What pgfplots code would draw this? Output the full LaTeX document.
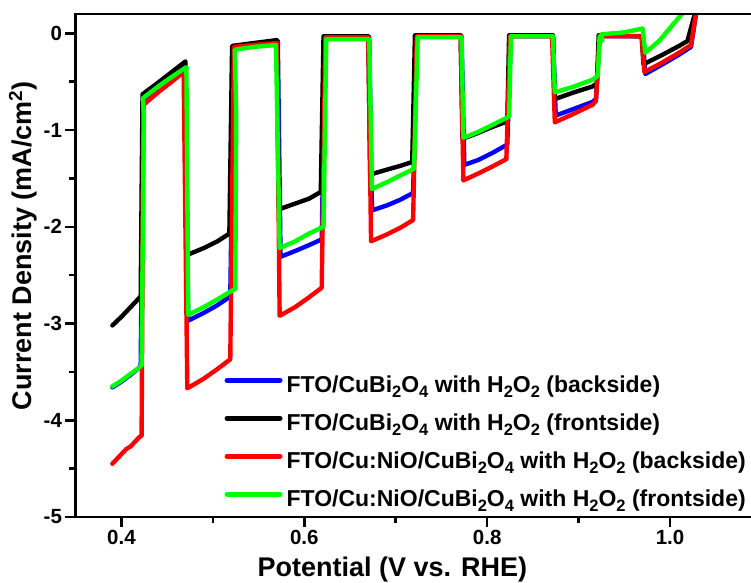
\documentclass[border=0pt]{standalone}
\usepackage{fontspec}
\setmainfont{Liberation Sans}
\usepackage{pgfplots}
\pgfplotsset{compat=1.18}

\definecolor{cblue}{RGB}{0,0,255}
\definecolor{cred}{RGB}{255,0,0}
\definecolor{cgreen}{RGB}{0,255,0}
\newcommand{\sub}[1]{\raisebox{-4.6pt}{\fontsize{16.5}{16.5}\selectfont #1}}

\pgfplotstableread{
x y
0.390 -3.66
0.400 -3.60
0.410 -3.53
0.419 -3.46
0.421 -3.43
0.424 -0.68
0.440 -0.55
0.455 -0.44
0.470 -0.34
0.473 -2.97
0.490 -2.89
0.505 -2.81
0.519 -2.72
0.523 -0.15
0.545 -0.11
0.571 -0.08
0.574 -2.31
0.590 -2.25
0.605 -2.19
0.619 -2.13
0.623 -0.04
0.671 -0.04
0.674 -1.83
0.690 -1.78
0.705 -1.72
0.719 -1.65
0.723 -0.03
0.772 -0.03
0.775 -1.36
0.790 -1.31
0.805 -1.24
0.822 -1.15
0.826 -0.03
0.872 -0.03
0.875 -0.85
0.895 -0.78
0.915 -0.71
0.919 -0.68
0.923 -0.03
0.970 -0.03
0.973 -0.42
0.990 -0.33
1.010 -0.22
1.023 -0.14
1.030 0.30
}\blueback

\pgfplotstableread{
x y
0.390 -3.02
0.400 -2.93
0.410 -2.83
0.418 -2.75
0.421 -2.72
0.423 -0.63
0.440 -0.51
0.455 -0.40
0.470 -0.29
0.472 -2.29
0.490 -2.22
0.505 -2.15
0.518 -2.07
0.521 -0.13
0.545 -0.10
0.570 -0.07
0.572 -1.82
0.590 -1.76
0.605 -1.71
0.618 -1.64
0.621 -0.03
0.670 -0.03
0.672 -1.46
0.690 -1.41
0.705 -1.37
0.718 -1.33
0.721 -0.02
0.771 -0.02
0.773 -1.09
0.790 -1.03
0.805 -0.97
0.822 -0.91
0.824 -0.02
0.872 -0.02
0.874 -0.68
0.895 -0.61
0.915 -0.55
0.920 -0.52
0.922 -0.02
0.969 -0.03
0.971 -0.32
0.990 -0.23
1.010 -0.13
1.019 -0.08
1.030 0.30
}\blackfront

\pgfplotstableread{
x y
0.390 -4.45
0.395 -4.40
0.400 -4.35
0.405 -4.30
0.410 -4.27
0.415 -4.22
0.420 -4.17
0.422 -4.16
0.424 -0.74
0.440 -0.61
0.455 -0.50
0.468 -0.40
0.472 -3.67
0.490 -3.57
0.505 -3.47
0.519 -3.37
0.523 -0.14
0.545 -0.12
0.570 -0.10
0.573 -2.92
0.590 -2.83
0.605 -2.73
0.619 -2.63
0.623 -0.04
0.670 -0.04
0.673 -2.15
0.690 -2.08
0.705 -2.01
0.719 -1.93
0.723 -0.03
0.771 -0.03
0.774 -1.52
0.790 -1.45
0.805 -1.38
0.821 -1.30
0.825 -0.03
0.871 -0.03
0.874 -0.92
0.895 -0.83
0.915 -0.74
0.919 -0.70
0.923 -0.03
0.969 -0.03
0.972 -0.40
0.990 -0.31
1.010 -0.20
1.023 -0.12
1.030 0.30
}\redback

\pgfplotstableread{
x y
0.390 -3.65
0.400 -3.59
0.410 -3.52
0.419 -3.46
0.422 -3.43
0.4245 -0.84
0.4235 -0.67
0.440 -0.55
0.455 -0.45
0.471 -0.35
0.473 -2.91
0.490 -2.83
0.505 -2.75
0.5245 -2.64
0.5255 -0.85
0.524 -0.17
0.545 -0.14
0.569 -0.12
0.573 -2.22
0.590 -2.15
0.605 -2.07
0.621 -2.00
0.624 -0.06
0.671 -0.06
0.674 -1.61
0.690 -1.54
0.705 -1.47
0.720 -1.40
0.724 -0.04
0.772 -0.04
0.774 -1.08
0.790 -1.02
0.805 -0.95
0.824 -0.86
0.826 -0.03
0.872 -0.03
0.874 -0.61
0.895 -0.55
0.915 -0.48
0.921 -0.44
0.923 -0.03
0.926 -0.08
0.925 -0.01
0.950 0.01
0.970 0.05
0.973 -0.20
0.988 -0.08
1.013 0.20
1.020 0.30
}\greenfront

\begin{document}
\begin{tikzpicture}
\begin{axis}[
  scale only axis, width=675.5pt, height=503pt,
  xmin=0.3497, xmax=1.0886, ymin=-5, ymax=0.2,
  axis x line*=bottom, axis y line*=left,
  axis line style={line width=2.6pt},
  xtick={0.4,0.6,0.8,1.0}, xticklabels={0.4,0.6,0.8,1.0},
  minor xtick={0.5,0.7,0.9},
  ytick={-5,-4,-3,-2,-1,0}, yticklabels={-5,-4,-3,-2,-1,0},
  minor ytick={-4.5,-3.5,-2.5,-1.5,-0.5},
  tick align=outside,
  major tick length=10pt, minor tick length=6.5pt,
  every tick/.style={line width=2.6pt, black},
  ticklabel style={font=\fontsize{20.5}{24}\selectfont\bfseries},
  xlabel={Potential (V vs. RHE)},
  ylabel={Current Density (mA/cm\textsuperscript{2})},
  xlabel style={font=\fontsize{27}{30}\selectfont\bfseries, at={(axis description cs:0.469,0)}, anchor=base, yshift=-60pt},
  ylabel style={font=\fontsize{27}{30}\selectfont\bfseries, at={(ticklabel cs:0.539)}},
  legend style={at={(rel axis cs:1,0)}, anchor=south east, xshift=0pt, yshift=0pt,
    draw=none, fill=none, font=\fontsize{23}{26}\selectfont\bfseries,
    row sep=12pt, column sep=2pt,
    nodes={inner sep=2pt, text height=16pt, text depth=6pt}},
  legend cell align=left,
  legend image code/.code={\draw[#1, line width=5pt, line cap=round] (2pt,7.5pt) -- (55pt,7.5pt);},
  every axis plot/.append style={line width=4.4pt, line join=round, line cap=round},
]
\addplot[cblue] table {\blueback};
\addlegendentry{FTO/CuBi\sub{2}O\sub{4} with H\sub{2}O\sub{2} (backside)}
\addplot[black] table {\blackfront};
\addlegendentry{FTO/CuBi\sub{2}O\sub{4} with H\sub{2}O\sub{2} (frontside)}
\addplot[cred] table {\redback};
\addlegendentry{FTO/Cu:NiO/CuBi\sub{2}O\sub{4} with H\sub{2}O\sub{2} (backside)}
\addplot[cgreen] table {\greenfront};
\addlegendentry{FTO/Cu:NiO/CuBi\sub{2}O\sub{4} with H\sub{2}O\sub{2} (frontside)}
\end{axis}
\draw[line width=2.6pt] ([xshift=-1.3pt]current axis.north west) -- (current axis.north east);
\pgfresetboundingbox
\path ([xshift=-75.5pt,yshift=-66pt]current axis.south west) rectangle ([yshift=14pt]current axis.north east);
\end{tikzpicture}
\end{document}
